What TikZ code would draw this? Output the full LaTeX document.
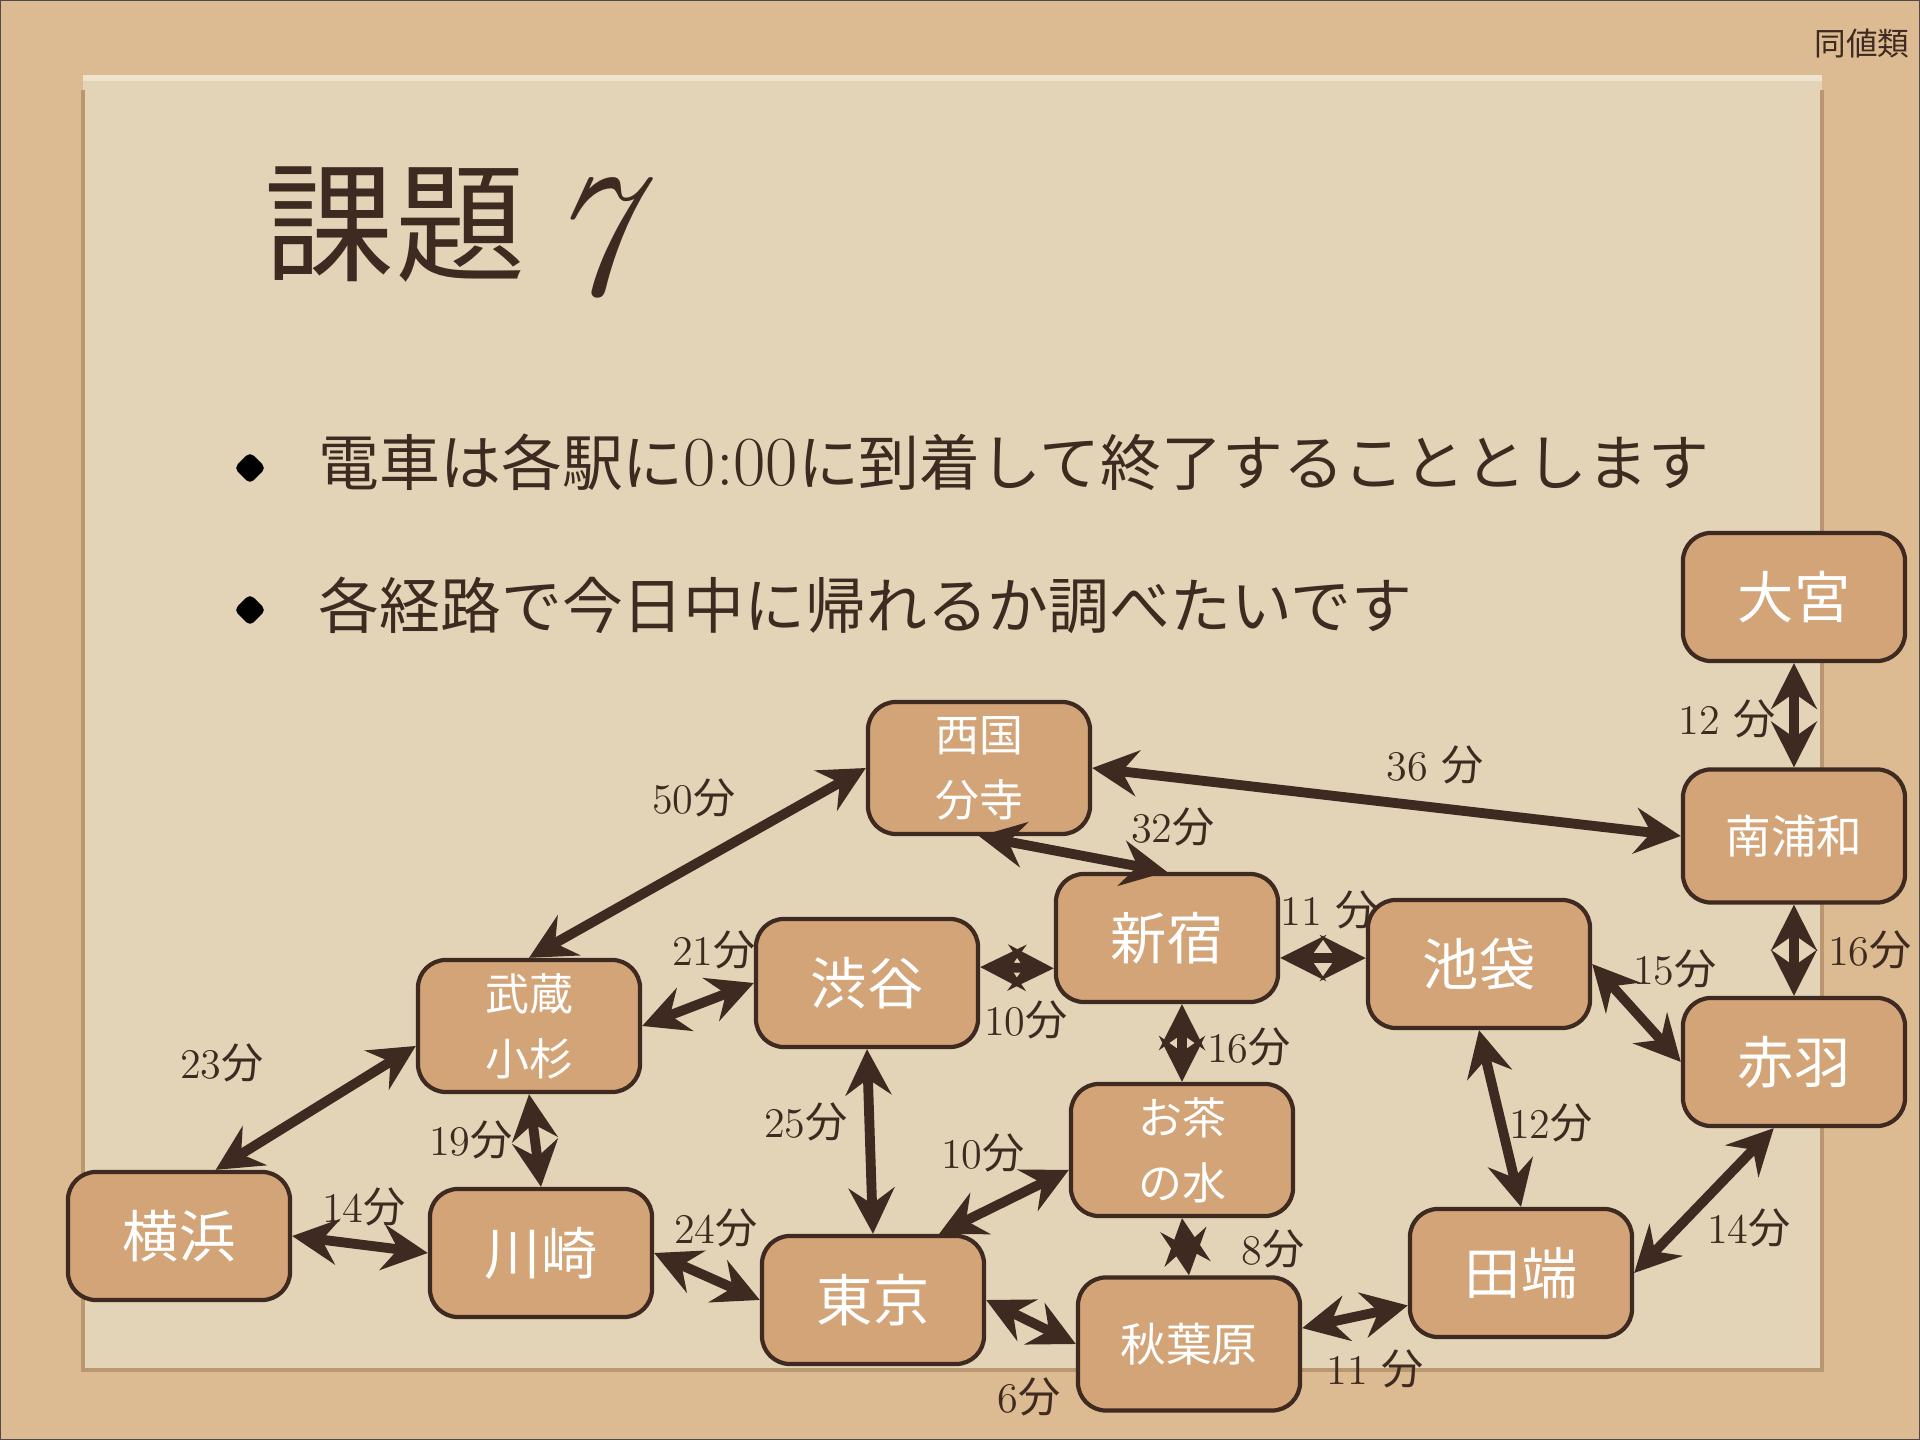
\documentclass[tikz,border=0pt]{standalone}
\usepackage{fontspec}
\newfontfamily\jp{Noto Sans CJK JP}
\usetikzlibrary{arrows.meta}

\definecolor{sand}{HTML}{DDBB92}
\definecolor{paper}{HTML}{E3D4B7}
\definecolor{paperedge}{HTML}{B99770}
\definecolor{paperlight}{HTML}{EEE3CD}
\definecolor{boxtan}{HTML}{D2A477}
\definecolor{ink}{HTML}{3E2A20}

\tikzset{
  station/.style={draw=ink, line width=1.2pt, fill=boxtan, rounded corners=8pt,
    minimum width=2.22cm, minimum height=1.28cm, inner sep=0pt, text=white,
    align=center, font=\jp\fontsize{16}{20}\selectfont},
  station3/.style={station, minimum height=1.33cm, font=\jp\fontsize{13}{16}\selectfont},
  station2/.style={station, minimum height=1.32cm, font=\jp\fontsize{12.5}{18.5}\selectfont},
  link/.style={draw=ink, line width=2.8pt,
    {Stealth[length=13pt,width=13pt,inset=4.5pt]}-{Stealth[length=13pt,width=13pt,inset=4.5pt]}},
  mins/.style={text=ink, inner sep=1pt, font=\fontsize{12}{14}\selectfont},
  bullet/.style={text=ink, inner sep=0pt, anchor=west, font=\jp\fontsize{17.3}{20}\selectfont}
}
\newcommand{\fen}{{\jp 分}}

\begin{document}
\begin{tikzpicture}[x=0.01cm, y=-0.01cm]
    \useasboundingbox (0,0) rectangle (1920,1440);
    % background and paper sheet
    \fill[sand] (0,0) rectangle (1920,1440);
    \fill[paper] (83,78) rectangle (1822,1370);
    \draw[paperedge, line width=1.2pt] (83,90) -- (83,1370) -- (1822,1370) -- (1822,90);
    \draw[paperlight, line width=1.5pt] (83,78) -- (1822,78);
    \draw[black!70, line width=0.8pt] (0,0) rectangle (1920,1440);

    % title and corner text
    \node[text=ink, inner sep=0pt] (title) at (395,225) {\jp\fontsize{37}{40}\selectfont 課題};
    \node[text=ink, inner sep=0pt] (seven) at (589,238) {\fontsize{50}{50}\selectfont\itshape 7};
    \node[text=ink, inner sep=0pt] (corner) at (1862,44) {\jp\fontsize{9}{10}\selectfont 同値類};

    % bullets
    \fill[black, rounded corners=1.5pt] (250,452) -- (266,468) -- (250,484) -- (234,468) -- cycle;
    \fill[black, rounded corners=1.5pt] (250,594) -- (266,610) -- (250,626) -- (234,610) -- cycle;
    \node[bullet] (line1) at (318,462) {電車は各駅に{\rmfamily\fontsize{20}{20}\selectfont 0:00}に到着して終了することとします};
    \node[bullet] (line2) at (318,605) {各経路で今日中に帰れるか調べたいです};

    % stations
    \node[station] (omiya) at (1794,597) {大宮};
    \node[station3] (minami) at (1794,836) {南浦和};
    \node[station] (akabane) at (1794,1062) {赤羽};
    \node[station2] (saikoku) at (979,768) {西国\\分寺};
    \node[station] (shinjuku) at (1167,938) {新宿};
    \node[station] (ikebukuro) at (1479,964) {池袋};
    \node[station] (shibuya) at (867,983) {渋谷};
    \node[station2] (musashi) at (529,1026) {武蔵\\小杉};
    \node[station2] (ocha) at (1182,1150) {お茶\\の水};
    \node[station] (yokohama) at (179,1236) {横浜};
    \node[station] (kawasaki) at (541,1253) {川崎};
    \node[station] (tokyo) at (873,1300) {東京};
    \node[station3] (akiba) at (1189,1344) {秋葉原};
    \node[station] (tabata) at (1521,1273) {田端};

    % connections
    \draw[link] (omiya.south) -- (minami.north);
    \draw[link] (minami.south) -- (akabane.north);
    \draw[link] (saikoku.east) -- (minami.west);
    \draw[link] (saikoku.south) -- (shinjuku.north);
    \draw[link] (saikoku.west) -- (musashi.north);
    \draw[link] (musashi.east) -- (shibuya.west);
    \draw[link] (shibuya.8) -- (shinjuku.195);
    \draw[link] (shinjuku.-10) -- (ikebukuro.177);
    \draw[link] (ocha.north |- shinjuku.south) -- (ocha.north);
    \draw[link] (ikebukuro.east) -- (akabane.west);
    \draw[link] (ikebukuro.south) -- (tabata.north);
    \draw[link] (akabane.-107) -- (tabata.east);
    \draw[link] (musashi.190) -- (yokohama.61);
    \draw[link] (musashi.south) -- (kawasaki.north);
    \draw[link] (yokohama.east) -- (kawasaki.west);
    \draw[link] (shibuya.south) -- (tokyo.north);
    \draw[link] (ocha.190) -- (tokyo.45);
    \draw[link] (kawasaki.east) -- (tokyo.west);
    \draw[link] (ocha.south) -- (akiba.north);
    \draw[link] (tokyo.east) -- (akiba.west);
    \draw[link] (akiba.8) -- (tabata.196);

    % travel times
    \node[mins] (t-omiya) at (1727,719) {12 \fen};
    \node[mins] (t-akabane) at (1870,950) {16\fen};
    \node[mins] (t-saikoku) at (1435,765) {36 \fen};
    \node[mins] (t-shinjuku) at (1173,827) {32\fen};
    \node[mins] (t-musashi) at (694,798) {50\fen};
    \node[mins] (t-shibuya) at (714,950) {21\fen};
    \node[mins] (t-shibsh) at (1026,1020) {10\fen};
    \node[mins] (t-ikebukuro) at (1329,910) {11 \fen};
    \node[mins] (t-ocha) at (1249,1047) {16\fen};
    \node[mins] (t-ikeak) at (1675,969) {15\fen};
    \node[mins] (t-tabata) at (1551,1123) {12\fen};
    \node[mins] (t-aktab) at (1749,1228) {14\fen};
    \node[mins] (t-yokohama) at (222,1063) {23\fen};
    \node[mins] (t-kawasaki) at (471,1140) {19\fen};
    \node[mins] (t-yokawa) at (364,1207) {14\fen};
    \node[mins] (t-tokyo) at (806,1122) {25\fen};
    \node[mins] (t-ochato) at (983,1153) {10\fen};
    \node[mins] (t-kawato) at (716,1228) {24\fen};
    \node[mins] (t-akiba) at (1273,1249) {8\fen};
    \node[mins] (t-toaki) at (1029,1397) {6\fen};
    \node[mins] (t-akitab) at (1375,1369) {11 \fen};
\end{tikzpicture}
\end{document}
